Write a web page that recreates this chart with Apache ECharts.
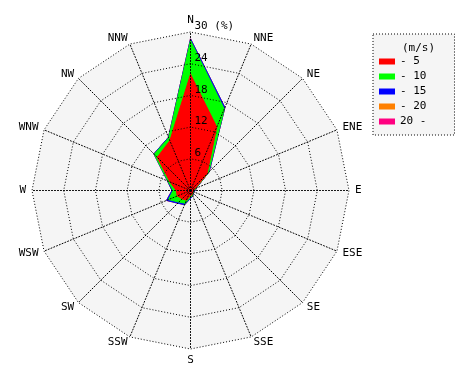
<!DOCTYPE html>
<html><head><meta charset="utf-8">
<script src="https://cdn.jsdelivr.net/npm/echarts@6/dist/echarts.min.js"></script>
<style>html,body{margin:0;padding:0;background:#fff}#c{width:470px;height:380px}</style>
</head><body><div id="c"></div>
<script>
// Compass directions, clockwise from North
const directions = ['N','NNE','NE','ENE','E','ESE','SE','SSE','S','SSW','SW','WSW','W','WNW','NW','NNW'];
const speedClasses = ['- 5','- 10','- 15','- 20','20 -'];
const classColors = ['#ff0000','#00ff00','#0000ff','#ff8000','#ff0080'];
// Frequency (%) for each speed class, per direction (same order as directions)
const freq0to5   = [22.0, 13.0, 4.4, 0.9, 0.6, 0.5, 0.6, 0.8, 1.0, 2.0, 2.2, 2.7, 2.7, 4.2, 8.9, 10.2];
const freq5to10  = [6.4, 3.7, 0.4, 0.2, 0.2, 0.1, 0.1, 0.2, 0.3, 0.6, 0.9, 1.8, 0.6, 0.4, 0.8, 0.6];
const freq10to15 = [0.3, 0.3, 0.2, 0.1, 0.1, 0.1, 0.1, 0.1, 0.2, 0.3, 0.3, 0.4, 0.2, 0.1, 0.1, 0.1];
const freq15to20 = [0, 0, 0, 0, 0, 0, 0, 0, 0, 0, 0, 0, 0, 0, 0, 0];
const freqOver20 = [0, 0, 0, 0, 0, 0, 0, 0, 0, 0, 0, 0, 0, 0, 0, 0];
const radiusMax = 30;
const radiusSplits = 5;

const classes = [freq0to5, freq5to10, freq10to15, freq15to20, freqOver20];
// radar places indicators counter-clockwise; reorder so compass runs clockwise
const order = directions.map((d, i) => (16 - i) % 16);
const font = 'DejaVu Sans Mono';

const cumulative = [];
let run = directions.map(() => 0);
classes.forEach(arr => { run = run.map((v, i) => v + arr[i]); cumulative.push(run.slice()); });

function makeIndicators(withLabel) {
  return order.map((k, j) => {
    const ind = { name: directions[k], min: 0, max: radiusMax };
    if (withLabel && j === 0) {
      ind.axisLabel = {
        show: true, color: '#000', fontFamily: font, fontSize: 11,
        align: 'left', verticalAlign: 'bottom', margin: -4,
        formatter: v => v === 0 ? '' : (v === radiusMax ? v + ' (%)' : String(v))
      };
    }
    return ind;
  });
}

const series = [];
for (let c = classes.length - 1; c >= 0; c--) {
  series.push({
    type: 'radar', radarIndex: 0, name: speedClasses[c], symbol: 'none', silent: true, z: 2,
    lineStyle: { width: 1, color: classColors[c] },
    areaStyle: { color: classColors[c], opacity: 1 },
    itemStyle: { color: classColors[c] },
    data: [{ value: order.map(k => cumulative[c][k]), name: speedClasses[c] }]
  });
}

const common = {
  center: [190.5, 190.5], radius: 158.5, startAngle: 90,
  splitNumber: radiusSplits, shape: 'polygon'
};

const chart = echarts.init(document.getElementById('c'), null, { renderer: 'canvas' });
chart.setOption({
  animation: false,
  backgroundColor: '#fff',
  color: classColors,
  radar: [
    Object.assign({}, common, {
      z: 0,
      indicator: makeIndicators(false),
      nameGap: 6,
      axisName: { color: '#000', fontFamily: font, fontSize: 11 },
      axisLine: { show: false },
      splitLine: { show: false },
      splitArea: { show: true, areaStyle: { color: ['#f5f5f5'] } },
      axisTick: { show: false },
      axisLabel: { show: false }
    }),
    Object.assign({}, common, {
      z: 10,
      indicator: makeIndicators(true),
      axisName: { show: false },
      axisLine: { lineStyle: { color: '#000', type: [1, 2], width: 1 } },
      splitLine: { lineStyle: { color: '#000', type: [1, 2], width: 1 } },
      splitArea: { show: false },
      axisTick: { show: false },
      axisLabel: { show: false }
    })
  ],
  title: {
    text: '(m/s)', left: 397, top: 38,
    textStyle: { fontFamily: font, fontSize: 11, fontWeight: 'normal', color: '#000' }
  },
  legend: {
    data: speedClasses.map(n => ({ name: n, icon: 'rect' })),
    orient: 'vertical', left: 373, top: 34,
    padding: [22, 28, 8, 6], itemGap: 4,
    itemWidth: 16, itemHeight: 6,
    backgroundColor: '#f5f5f5', borderColor: '#000', borderWidth: 1, borderType: [1, 2],
    textStyle: { fontFamily: font, fontSize: 11, color: '#000' },
    selectedMode: false
  },
  series: series
});
</script></body></html>
